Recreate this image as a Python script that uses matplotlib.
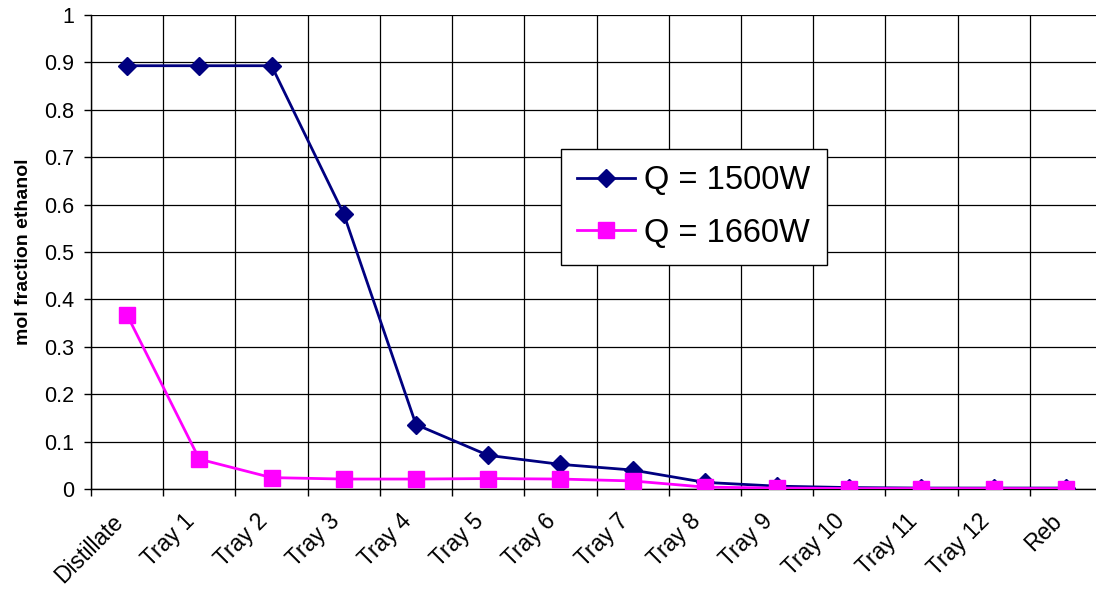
import numpy as np
import matplotlib
matplotlib.use("Agg")
import matplotlib.pyplot as plt
from matplotlib.transforms import ScaledTranslation

plt.rcParams["font.family"] = ["Liberation Sans", "DejaVu Sans"]

# kategorie (polozenie w kolumnie)
stages = ["Distillate", "Tray 1", "Tray 2", "Tray 3", "Tray 4", "Tray 5", "Tray 6",
          "Tray 7", "Tray 8", "Tray 9", "Tray 10", "Tray 11", "Tray 12", "Reb"]

# ulamek molowy etanolu
q1500 = [0.893, 0.893, 0.893, 0.580, 0.136, 0.071, 0.052, 0.040, 0.014, 0.006,
         0.003, 0.002, 0.002, 0.002]
q1660 = [0.367, 0.063, 0.024, 0.021, 0.021, 0.022, 0.021, 0.017, 0.004, 0.002,
         0.001, 0.001, 0.001, 0.001]

y_ticks = [0, 0.1, 0.2, 0.3, 0.4, 0.5, 0.6, 0.7, 0.8, 0.9, 1]

fig = plt.figure(figsize=(10.96, 5.92), dpi=100)
ax = fig.add_axes([91 / 1096, 1 - 489 / 592, 1011 / 1096, 474 / 592])

x = np.arange(len(stages)) + 0.5

ax.plot(x, q1500, color="#000080", lw=2, marker="D", ms=8.7,
        label="Q = 1500W", zorder=3)
ax.plot(x, q1660, color="#FF00FF", lw=2, marker="s", ms=11.5,
        label="Q = 1660W", zorder=3)

ax.set_xlim(0, len(stages))
ax.set_ylim(0, 1)

# etykiety na srodku kategorii, linie siatki na granicach
ax.set_xticks(x)
ax.set_xticklabels(stages, rotation=45, ha="right", rotation_mode="anchor",
                   fontsize=16.5)
ax.tick_params(axis="x", which="major", length=0, pad=15)
shift = ScaledTranslation(-0.16, 0, fig.dpi_scale_trans)
for lab in ax.get_xticklabels():
    lab.set_transform(lab.get_transform() + shift)
ax.set_xticks(np.arange(len(stages) + 1), minor=True)
ax.tick_params(axis="x", which="minor", length=5, width=1, color="black",
               direction="out")

ax.set_yticks(y_ticks)
ax.set_yticklabels([f"{t:g}" for t in y_ticks], fontsize=15.5)
ax.tick_params(axis="y", length=5, width=1, pad=7, direction="out")

ax.grid(True, which="minor", axis="x", color="black", lw=0.9)
ax.grid(True, which="major", axis="y", color="black", lw=0.9)
ax.set_axisbelow(True)

for s in ["top", "right"]:
    ax.spines[s].set_visible(False)
for s in ["left", "bottom"]:
    ax.spines[s].set_linewidth(1)
    ax.spines[s].set_color("black")

ax.set_ylabel("mol fraction ethanol", fontsize=14, fontweight="bold",
              labelpad=9)

leg = ax.legend(loc="upper left", bbox_to_anchor=(0.465, 0.717),
                borderaxespad=0, fontsize=23.5, frameon=True, fancybox=False,
                edgecolor="black", framealpha=1, handlelength=1.75,
                handletextpad=0.3, labelspacing=0.65, borderpad=0.5)
leg.get_frame().set_linewidth(1)

fig.savefig("out.png", dpi=100)
